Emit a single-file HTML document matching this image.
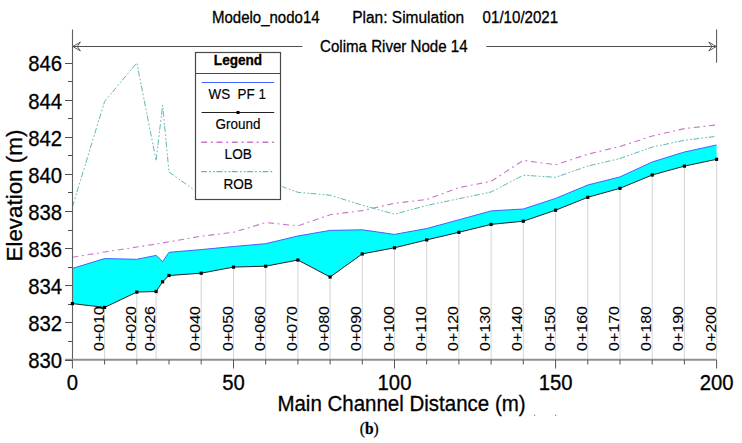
<!DOCTYPE html>
<html><head><meta charset="utf-8"><style>
html,body{margin:0;padding:0;background:#fff;width:742px;height:443px;overflow:hidden}
svg{display:block}
text{font-family:"Liberation Sans",sans-serif;fill:#000;stroke:#000;stroke-width:0.28px;font-kerning:none}
</style></head><body>
<svg width="742" height="443" viewBox="0 0 742 443">

<g stroke="#d4d4d4" stroke-width="1"><line x1="104.6" y1="307.4" x2="104.6" y2="359" /><line x1="136.8" y1="292.1" x2="136.8" y2="359" /><line x1="156.1" y1="291.5" x2="156.1" y2="359" /><line x1="201.2" y1="273.2" x2="201.2" y2="359" /><line x1="233.5" y1="267.1" x2="233.5" y2="359" /><line x1="265.7" y1="266.2" x2="265.7" y2="359" /><line x1="297.9" y1="260.0" x2="297.9" y2="359" /><line x1="330.1" y1="277.0" x2="330.1" y2="359" /><line x1="362.3" y1="253.9" x2="362.3" y2="359" /><line x1="394.5" y1="247.8" x2="394.5" y2="359" /><line x1="426.7" y1="239.9" x2="426.7" y2="359" /><line x1="458.9" y1="232.3" x2="458.9" y2="359" /><line x1="491.1" y1="224.4" x2="491.1" y2="359" /><line x1="523.3" y1="221.2" x2="523.3" y2="359" /><line x1="555.6" y1="210.2" x2="555.6" y2="359" /><line x1="587.8" y1="197.3" x2="587.8" y2="359" /><line x1="620.0" y1="188.3" x2="620.0" y2="359" /><line x1="652.2" y1="175.0" x2="652.2" y2="359" /><line x1="684.4" y1="166.1" x2="684.4" y2="359" /><line x1="716.6" y1="159.3" x2="716.6" y2="359" /></g>
<polygon points="72.4,268.4 104.6,258.6 136.8,259.3 156.1,255.4 162.6,261.7 169.0,252.3 201.2,249.6 233.5,246.5 265.7,243.7 297.9,236.0 330.1,230.4 362.3,229.8 394.5,234.4 426.7,228.5 458.9,219.8 491.1,210.9 523.3,209.0 555.6,198.4 587.8,185.0 620.0,176.9 652.2,162.0 684.4,152.0 716.6,145.0 716.6,159.3 684.4,166.1 652.2,175.0 620.0,188.3 587.8,197.3 555.6,210.2 523.3,221.2 491.1,224.4 458.9,232.3 426.7,239.9 394.5,247.8 362.3,253.9 330.1,277.0 297.9,260.0 265.7,266.2 233.5,267.1 201.2,273.2 169.0,275.5 162.6,281.8 156.1,291.5 136.8,292.1 104.6,307.4 72.4,303.6" fill="#00ffff" stroke="none"/>
<polyline points="72.4,268.4 104.6,258.6 136.8,259.3 156.1,255.4 162.6,261.7 169.0,252.3 201.2,249.6 233.5,246.5 265.7,243.7 297.9,236.0 330.1,230.4 362.3,229.8 394.5,234.4 426.7,228.5 458.9,219.8 491.1,210.9 523.3,209.0 555.6,198.4 587.8,185.0 620.0,176.9 652.2,162.0 684.4,152.0 716.6,145.0" fill="none" stroke="#4062ff" stroke-width="1.0"/>
<polyline points="72.4,257.3 104.6,252.0 136.8,247.0 156.1,244.0 162.6,243.0 169.0,241.8 201.2,236.2 233.5,232.3 265.7,222.6 297.9,225.8 330.1,214.7 362.3,210.6 394.5,203.3 426.7,199.5 458.9,187.6 491.1,181.4 523.3,160.3 555.6,164.8 587.8,154.2 620.0,146.4 652.2,136.0 684.4,128.6 716.6,124.9" fill="none" stroke="#c876cc" stroke-width="1.1" stroke-dasharray="6 3.7 1.9 3.7"/>
<polyline points="72.4,206.8 104.6,101.5 136.8,62.9 156.1,160.5 162.6,105.2 169.0,172.0 201.2,195.0 233.5,186.0 265.7,180.5 297.9,192.3 330.1,195.2 362.3,205.2 394.5,214.2 426.7,205.5 458.9,198.7 491.1,192.0 523.3,175.2 555.6,177.3 587.8,166.1 620.0,158.5 652.2,147.1 684.4,140.3 716.6,136.3" fill="none" stroke="#5cbab2" stroke-width="1.0" stroke-dasharray="5.8 2.3 1.7 2.3 1.7 1.5"/>
<polyline points="72.4,303.6 104.6,307.4 136.8,292.1 156.1,291.5 162.6,281.8 169.0,275.5 201.2,273.2 233.5,267.1 265.7,266.2 297.9,260.0 330.1,277.0 362.3,253.9 394.5,247.8 426.7,239.9 458.9,232.3 491.1,224.4 523.3,221.2 555.6,210.2 587.8,197.3 620.0,188.3 652.2,175.0 684.4,166.1 716.6,159.3" fill="none" stroke="#1a1a1a" stroke-width="0.95"/>
<line x1="72.5" y1="29.5" x2="72.5" y2="361" stroke="#606060" stroke-width="1.1"/>
<line x1="65" y1="359.8" x2="716.6" y2="359.8" stroke="#909090" stroke-width="2"/>
<g stroke="#505050" stroke-width="1"><line x1="65" y1="360.5" x2="72.5" y2="360.5"/><line x1="68" y1="341.5" x2="72.5" y2="341.5"/><line x1="65" y1="322.5" x2="72.5" y2="322.5"/><line x1="68" y1="304.5" x2="72.5" y2="304.5"/><line x1="65" y1="285.5" x2="72.5" y2="285.5"/><line x1="68" y1="267.5" x2="72.5" y2="267.5"/><line x1="65" y1="248.5" x2="72.5" y2="248.5"/><line x1="68" y1="230.5" x2="72.5" y2="230.5"/><line x1="65" y1="211.5" x2="72.5" y2="211.5"/><line x1="68" y1="192.5" x2="72.5" y2="192.5"/><line x1="65" y1="174.5" x2="72.5" y2="174.5"/><line x1="68" y1="155.5" x2="72.5" y2="155.5"/><line x1="65" y1="137.5" x2="72.5" y2="137.5"/><line x1="68" y1="118.5" x2="72.5" y2="118.5"/><line x1="65" y1="100.5" x2="72.5" y2="100.5"/><line x1="68" y1="81.5" x2="72.5" y2="81.5"/><line x1="65" y1="63.5" x2="72.5" y2="63.5"/></g>
<g stroke="#555" stroke-width="1"><line x1="72.4" y1="359.8" x2="72.4" y2="368.5"/><line x1="104.6" y1="359.8" x2="104.6" y2="364.5"/><line x1="136.8" y1="359.8" x2="136.8" y2="364.5"/><line x1="169.0" y1="359.8" x2="169.0" y2="364.5"/><line x1="201.2" y1="359.8" x2="201.2" y2="364.5"/><line x1="233.5" y1="359.8" x2="233.5" y2="368.5"/><line x1="265.7" y1="359.8" x2="265.7" y2="364.5"/><line x1="297.9" y1="359.8" x2="297.9" y2="364.5"/><line x1="330.1" y1="359.8" x2="330.1" y2="364.5"/><line x1="362.3" y1="359.8" x2="362.3" y2="364.5"/><line x1="394.5" y1="359.8" x2="394.5" y2="368.5"/><line x1="426.7" y1="359.8" x2="426.7" y2="364.5"/><line x1="458.9" y1="359.8" x2="458.9" y2="364.5"/><line x1="491.1" y1="359.8" x2="491.1" y2="364.5"/><line x1="523.3" y1="359.8" x2="523.3" y2="364.5"/><line x1="555.6" y1="359.8" x2="555.6" y2="368.5"/><line x1="587.8" y1="359.8" x2="587.8" y2="364.5"/><line x1="620.0" y1="359.8" x2="620.0" y2="364.5"/><line x1="652.2" y1="359.8" x2="652.2" y2="364.5"/><line x1="684.4" y1="359.8" x2="684.4" y2="364.5"/><line x1="716.6" y1="359.8" x2="716.6" y2="368.5"/></g>
<g fill="#000"><rect x="70.8" y="302.0" width="3.2" height="3.2"/><rect x="103.0" y="305.8" width="3.2" height="3.2"/><rect x="135.2" y="290.5" width="3.2" height="3.2"/><rect x="154.5" y="289.9" width="3.2" height="3.2"/><rect x="161.0" y="280.2" width="3.2" height="3.2"/><rect x="167.4" y="273.9" width="3.2" height="3.2"/><rect x="199.6" y="271.6" width="3.2" height="3.2"/><rect x="231.9" y="265.5" width="3.2" height="3.2"/><rect x="264.1" y="264.6" width="3.2" height="3.2"/><rect x="296.3" y="258.4" width="3.2" height="3.2"/><rect x="328.5" y="275.4" width="3.2" height="3.2"/><rect x="360.7" y="252.3" width="3.2" height="3.2"/><rect x="392.9" y="246.2" width="3.2" height="3.2"/><rect x="425.1" y="238.3" width="3.2" height="3.2"/><rect x="457.3" y="230.7" width="3.2" height="3.2"/><rect x="489.5" y="222.8" width="3.2" height="3.2"/><rect x="521.7" y="219.6" width="3.2" height="3.2"/><rect x="554.0" y="208.6" width="3.2" height="3.2"/><rect x="586.2" y="195.7" width="3.2" height="3.2"/><rect x="618.4" y="186.7" width="3.2" height="3.2"/><rect x="650.6" y="173.4" width="3.2" height="3.2"/><rect x="682.8" y="164.5" width="3.2" height="3.2"/><rect x="715.0" y="157.7" width="3.2" height="3.2"/></g>
<text transform="translate(62.0,368.4) scale(1,1.09)" font-size="20.3" text-anchor="end">830</text><text transform="translate(62.0,331.3) scale(1,1.09)" font-size="20.3" text-anchor="end">832</text><text transform="translate(62.0,294.1) scale(1,1.09)" font-size="20.3" text-anchor="end">834</text><text transform="translate(62.0,257.0) scale(1,1.09)" font-size="20.3" text-anchor="end">836</text><text transform="translate(62.0,219.9) scale(1,1.09)" font-size="20.3" text-anchor="end">838</text><text transform="translate(62.0,182.8) scale(1,1.09)" font-size="20.3" text-anchor="end">840</text><text transform="translate(62.0,145.7) scale(1,1.09)" font-size="20.3" text-anchor="end">842</text><text transform="translate(62.0,108.5) scale(1,1.09)" font-size="20.3" text-anchor="end">844</text><text transform="translate(62.0,71.4) scale(1,1.09)" font-size="20.3" text-anchor="end">846</text>
<text transform="translate(72.4,390.3) scale(1,1.1)" font-size="20.3" text-anchor="middle">0</text><text transform="translate(233.5,390.3) scale(1,1.1)" font-size="20.3" text-anchor="middle">50</text><text transform="translate(394.5,390.3) scale(1,1.1)" font-size="20.3" text-anchor="middle">100</text><text transform="translate(555.6,390.3) scale(1,1.1)" font-size="20.3" text-anchor="middle">150</text><text transform="translate(716.6,390.3) scale(1,1.1)" font-size="20.3" text-anchor="middle">200</text>
<text transform="translate(103.6,351.0) rotate(-90) scale(1.07,1.0)" font-size="15" style="stroke-width:0.1px">0+010</text><text transform="translate(135.8,351.0) rotate(-90) scale(1.07,1.0)" font-size="15" style="stroke-width:0.1px">0+020</text><text transform="translate(155.1,351.0) rotate(-90) scale(1.07,1.0)" font-size="15" style="stroke-width:0.1px">0+026</text><text transform="translate(200.2,351.0) rotate(-90) scale(1.07,1.0)" font-size="15" style="stroke-width:0.1px">0+040</text><text transform="translate(232.5,351.0) rotate(-90) scale(1.07,1.0)" font-size="15" style="stroke-width:0.1px">0+050</text><text transform="translate(264.7,351.0) rotate(-90) scale(1.07,1.0)" font-size="15" style="stroke-width:0.1px">0+060</text><text transform="translate(296.9,351.0) rotate(-90) scale(1.07,1.0)" font-size="15" style="stroke-width:0.1px">0+070</text><text transform="translate(329.1,351.0) rotate(-90) scale(1.07,1.0)" font-size="15" style="stroke-width:0.1px">0+080</text><text transform="translate(361.3,351.0) rotate(-90) scale(1.07,1.0)" font-size="15" style="stroke-width:0.1px">0+090</text><text transform="translate(393.5,351.0) rotate(-90) scale(1.07,1.0)" font-size="15" style="stroke-width:0.1px">0+100</text><text transform="translate(425.7,351.0) rotate(-90) scale(1.07,1.0)" font-size="15" style="stroke-width:0.1px">0+110</text><text transform="translate(457.9,351.0) rotate(-90) scale(1.07,1.0)" font-size="15" style="stroke-width:0.1px">0+120</text><text transform="translate(490.1,351.0) rotate(-90) scale(1.07,1.0)" font-size="15" style="stroke-width:0.1px">0+130</text><text transform="translate(522.3,351.0) rotate(-90) scale(1.07,1.0)" font-size="15" style="stroke-width:0.1px">0+140</text><text transform="translate(554.6,351.0) rotate(-90) scale(1.07,1.0)" font-size="15" style="stroke-width:0.1px">0+150</text><text transform="translate(586.8,351.0) rotate(-90) scale(1.07,1.0)" font-size="15" style="stroke-width:0.1px">0+160</text><text transform="translate(619.0,351.0) rotate(-90) scale(1.07,1.0)" font-size="15" style="stroke-width:0.1px">0+170</text><text transform="translate(651.2,351.0) rotate(-90) scale(1.07,1.0)" font-size="15" style="stroke-width:0.1px">0+180</text><text transform="translate(683.4,351.0) rotate(-90) scale(1.07,1.0)" font-size="15" style="stroke-width:0.1px">0+190</text><text transform="translate(715.6,351.0) rotate(-90) scale(1.07,1.0)" font-size="15" style="stroke-width:0.1px">0+200</text>
<text transform="translate(401.5,411.0) scale(1,1.11)" font-size="20.5" text-anchor="middle">Main Channel Distance (m)</text>
<text transform="translate(21.5,195.6) rotate(-90) scale(1.12,1.07)" font-size="20" text-anchor="middle">Elevation (m)</text>
<text transform="translate(212.0,23.2) scale(1,1.13)" font-size="15">Modelo_nodo14</text>
<text transform="translate(352.2,23.2) scale(1,1.1)" font-size="15.5">Plan: Simulation</text>
<text transform="translate(482.6,23.2) scale(1,1.13)" font-size="15.1">01/10/2021</text>
<text transform="translate(320.0,52.1) scale(1,1.12)" font-size="15.1">Colima River Node 14</text>
<g stroke="#505050" stroke-width="1.0" fill="none"><line x1="72.5" y1="46.5" x2="302.4" y2="46.5"/><line x1="486.3" y1="46.5" x2="716.6" y2="46.5"/><line x1="716.6" y1="29.5" x2="716.6" y2="62.7"/></g>
<g stroke="#4a4a4a" stroke-width="0.9" fill="none" stroke-linejoin="miter"><polygon points="72.9,46.5 80.4,42.1 77.2,46.5 80.4,50.9"/><polygon points="716.2,46.5 708.8,42.1 712.0,46.5 708.8,50.9"/></g>
<rect x="193.3" y="50.6" width="89" height="151" fill="#fff"/>
<rect x="195.5" y="52.5" width="85" height="147" fill="#fff" stroke="#484848" stroke-width="1.2"/>
<line x1="195.5" y1="73.5" x2="280.5" y2="73.5" stroke="#484848" stroke-width="1.2"/>
<text transform="translate(238.0,65.4) scale(1,1.08)" font-size="13.6" text-anchor="middle" font-weight="bold">Legend</text>
<line x1="201.6" y1="82.5" x2="274.2" y2="82.5" stroke="#4062ff" stroke-width="1.1"/>
<text transform="translate(237.2,99.4) scale(1,1.1)" font-size="13.4" text-anchor="middle" style="stroke-width:0.15px">WS&#160; PF 1</text>
<line x1="201.6" y1="112.5" x2="274.2" y2="112.5" stroke="#222" stroke-width="1.1"/>
<rect x="236.5" y="111" width="3" height="3" fill="#000"/>
<text transform="translate(237.9,129.2) scale(1,1.1)" font-size="13.5" text-anchor="middle" style="stroke-width:0.15px">Ground</text>
<line x1="201.2" y1="142.2" x2="274.2" y2="142.2" stroke="#c876cc" stroke-width="1.4" stroke-dasharray="6 3.7 1.9 3.7"/>
<text transform="translate(238.2,158.9) scale(1,1.1)" font-size="13.6" text-anchor="middle" style="stroke-width:0.15px">LOB</text>
<line x1="201.2" y1="171.7" x2="274.2" y2="171.7" stroke="#5cbab2" stroke-width="1.2" stroke-dasharray="5.8 2.3 1.7 2.3 1.7 1.5"/>
<text transform="translate(238.2,188.9) scale(1,1.1)" font-size="13.6" text-anchor="middle" style="stroke-width:0.15px">ROB</text>
<text transform="translate(369.2,433.8) scale(1,1.1)" font-size="15.5" text-anchor="middle" style="font-family:'Liberation Serif',serif">(<tspan font-weight="bold">b</tspan>)</text>
<rect x="534" y="414.7" width="1.2" height="1.2" fill="#8a8a8a"/><rect x="555" y="414.7" width="1.2" height="1.2" fill="#8a8a8a"/>
</svg></body></html>
